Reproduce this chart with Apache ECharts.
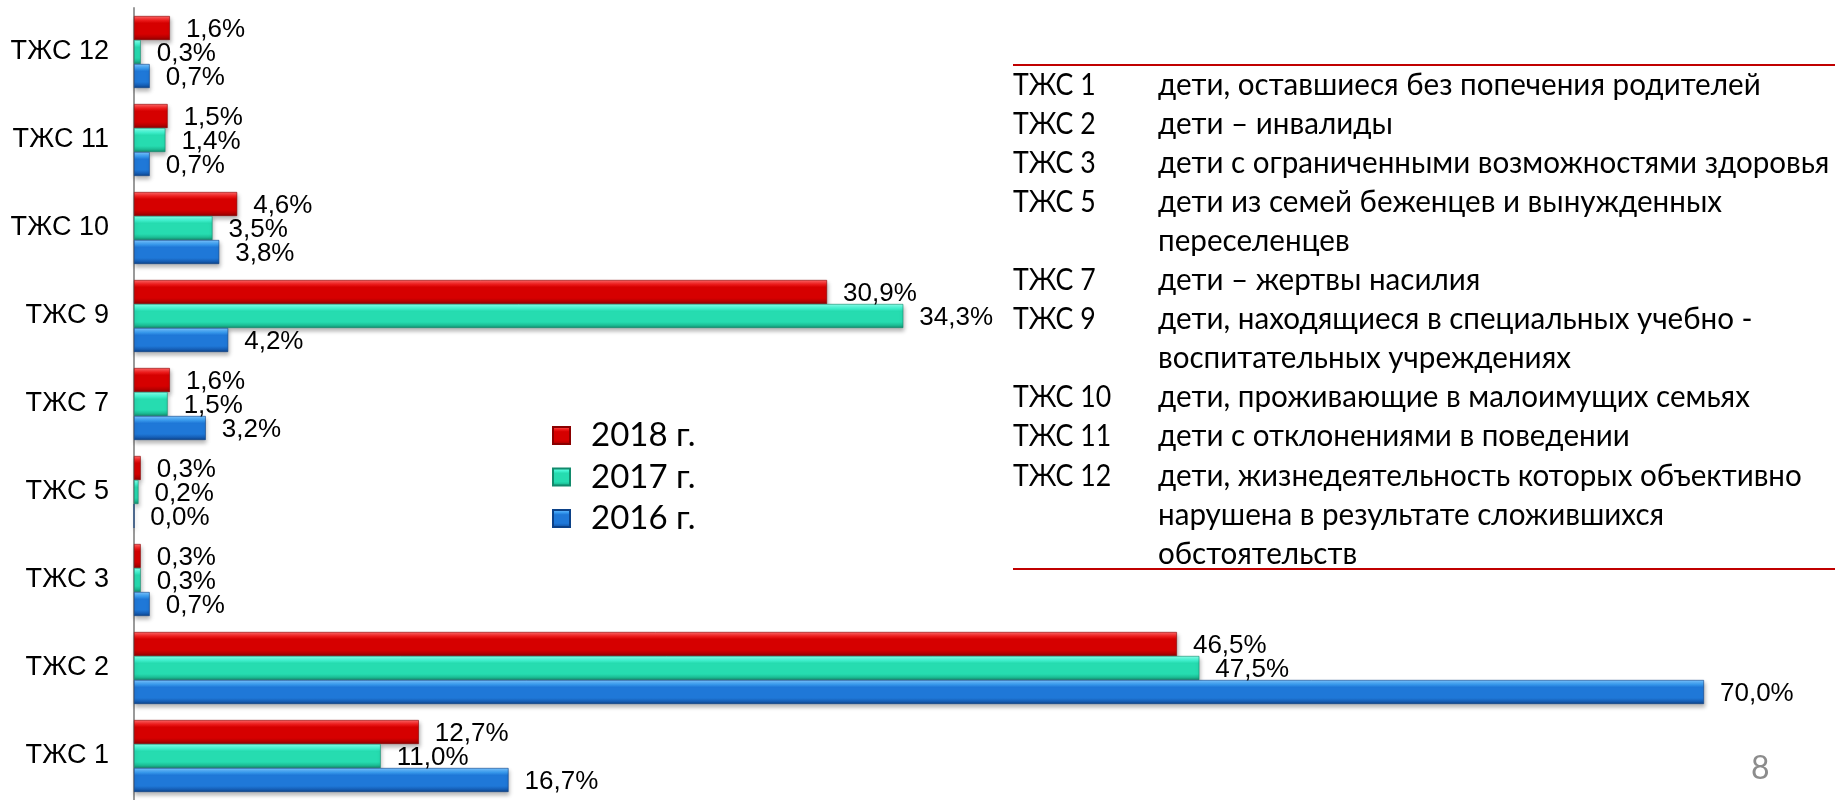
<!DOCTYPE html>
<html>
<head>
<meta charset="utf-8">
<script src="https://cdn.jsdelivr.net/npm/echarts@6/dist/echarts.min.js"></script>
<style>
  html, body { margin: 0; padding: 0; background: #ffffff; }
  #chart { width: 1835px; height: 800px; }
</style>
</head>
<body>
<div id="chart"></div>
<script>
// ---- data ----
const categories = ['ТЖС 1', 'ТЖС 2', 'ТЖС 3', 'ТЖС 5', 'ТЖС 7', 'ТЖС 9', 'ТЖС 10', 'ТЖС 11', 'ТЖС 12'];
const values2018 = [12.7, 46.5, 0.3, 0.3, 1.6, 30.9, 4.6, 1.5, 1.6];
const values2017 = [11.0, 47.5, 0.3, 0.2, 1.5, 34.3, 3.5, 1.4, 0.3];
const values2016 = [16.7, 70.0, 0.7, 0.0, 3.2, 4.2, 3.8, 0.7, 0.7];
const seriesNames = ['2018 г.', '2017 г.', '2016 г.'];

const noteCodes = ['ТЖС 1', 'ТЖС 2', 'ТЖС 3', 'ТЖС 5', 'ТЖС 7', 'ТЖС 9', 'ТЖС 10', 'ТЖС 11', 'ТЖС 12'];
const noteTexts = [
  ['дети, оставшиеся без попечения родителей'],
  ['дети – инвалиды'],
  ['дети с ограниченными возможностями здоровья'],
  ['дети из семей беженцев и вынужденных', 'переселенцев'],
  ['дети – жертвы насилия'],
  ['дети, находящиеся в специальных учебно -', 'воспитательных учреждениях'],
  ['дети, проживающие в малоимущих семьях'],
  ['дети с отклонениями в поведении'],
  ['дети, жизнедеятельность которых объективно', 'нарушена в результате сложившихся', 'обстоятельств']
];
const pageNumber = '8';

// ---- styles ----
function grad(top, light, mid, dark, bottom) {
  return new echarts.graphic.LinearGradient(0, 0, 0, 1, [
    { offset: 0, color: top },
    { offset: 0.18, color: light },
    { offset: 0.3, color: mid },
    { offset: 0.75, color: mid },
    { offset: 0.88, color: dark },
    { offset: 1, color: bottom }
  ]);
}
const styles = {
  '2018 г.': { color: grad('#ff6a6a', '#f21c1c', '#d60000', '#b80000', '#8a0000'), border: '#8a0000' },
  '2017 г.': { color: grad('#8affea', '#42f5d2', '#26dcb0', '#1cbf96', '#128a6c'), border: '#128a6c' },
  '2016 г.': { color: grad('#7cc4ff', '#3a9ef2', '#1f78d8', '#1660b8', '#0c4187'), border: '#0c4187' }
};
const fmt = v => v.toFixed(1).replace('.', ',') + '%';

function makeSeries(name, data) {
  return {
    name: name,
    type: 'bar',
    data: data,
    barWidth: 24,
    barGap: '0%',
    itemStyle: {
      color: styles[name].color,
      borderColor: styles[name].border,
      borderWidth: 0.6,
      shadowColor: 'rgba(0,0,0,0.28)',
      shadowBlur: 4,
      shadowOffsetX: 1,
      shadowOffsetY: 3
    },
    label: {
      show: true,
      position: 'right',
      distance: 16,
      offset: [0, 2],
      formatter: p => fmt(p.value),
      fontFamily: '"Liberation Sans", Arial, sans-serif',
      fontSize: 26,
      color: '#000'
    },
    emphasis: { disabled: true }
  };
}

// ---- notes panel (graphic text) ----
const graphics = [];
const lineStartY = 84.5, linePitch = 39.1;
const noteFont = 'Lato, "Open Sans", sans-serif';
let lineIdx = 0;
noteCodes.forEach((code, i) => {
  graphics.push({
    type: 'text', x: 1013, y: lineStartY + lineIdx * linePitch, scaleX: 0.86,
    style: { text: code, fontFamily: noteFont, fontSize: 31, fill: '#000', verticalAlign: 'middle' }
  });
  noteTexts[i].forEach(t => {
    graphics.push({
      type: 'text', x: 1158, y: lineStartY + lineIdx * linePitch, scaleX: 0.955,
      style: { text: t, fontFamily: noteFont, fontSize: 31, fill: '#000', verticalAlign: 'middle' }
    });
    lineIdx++;
  });
});
graphics.push({ type: 'line', shape: { x1: 1013, y1: 65, x2: 1835, y2: 65 }, style: { stroke: '#c00000', lineWidth: 2 } });
graphics.push({ type: 'line', shape: { x1: 1013, y1: 569, x2: 1835, y2: 569 }, style: { stroke: '#c00000', lineWidth: 2 } });
graphics.push({
  type: 'text', x: 1751, y: 769,
  style: { text: pageNumber, fontFamily: noteFont, fontSize: 32, fill: '#8c8c8c', verticalAlign: 'middle' }
});

const chart = echarts.init(document.getElementById('chart'), null, { renderer: 'canvas' });
chart.setOption({
  animation: false,
  backgroundColor: '#ffffff',
  grid: { left: 134, top: 8, width: 1570, height: 797, containLabel: false },
  xAxis: { type: 'value', min: 0, max: 70, show: false },
  yAxis: {
    type: 'category',
    data: categories,
    axisLine: { show: true, lineStyle: { color: '#9a9a9a', width: 2 } },
    axisTick: { show: false },
    axisLabel: { margin: 25, fontFamily: '"Liberation Sans", Arial, sans-serif', fontSize: 27, color: '#000' },
    splitLine: { show: false }
  },
  legend: {
    data: seriesNames,
    orient: 'vertical',
    left: 547,
    top: 414,
    itemWidth: 17,
    itemHeight: 17,
    itemGap: 8.5,
    icon: 'rect',
    selectedMode: false,
    textStyle: { fontFamily: 'Lato, "Open Sans", sans-serif', fontSize: 33, color: '#000', lineHeight: 17, padding: [4, 0, 0, 16] }
  },
  series: [
    makeSeries('2018 г.', values2018),
    makeSeries('2017 г.', values2017),
    makeSeries('2016 г.', values2016)
  ],
  graphic: graphics
});
</script>
</body>
</html>
